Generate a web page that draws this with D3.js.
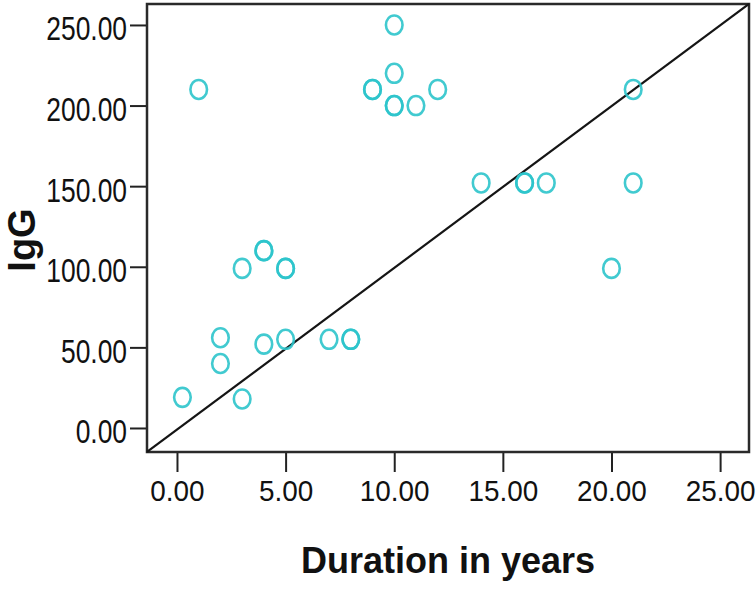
<!DOCTYPE html>
<html>
<head>
<meta charset="utf-8">
<script src="https://d3js.org/d3.v7.min.js"></script>
<style>
    body { margin: 0; background: #fff; }
    text { font-family: "Liberation Sans", Arial, sans-serif; fill: #111; }
</style>
</head>
<body>
<svg id="scatter" width="756" height="593"></svg>
<script>
// values (bold rings = two cases on top of each other)
const durations = [1, 10, 10, 9, 9, 10, 10, 11, 12,
    4, 4, 3, 5, 5, 2, 2, 4, 5, 7, 8, 8, 0.25, 3,
    14, 16, 16, 17, 21, 21, 20];
const iggValues = [210, 250, 220, 210, 210, 200, 200, 200, 210,
    110, 110, 99, 99, 99, 56, 40, 52, 55, 55, 55, 55, 19, 18,
    152, 152, 152, 152, 210, 152, 99];

const xTicks = [0, 5, 10, 15, 20, 25];
const yTicks = [0, 50, 100, 150, 200, 250];

// reference line
const fitIntercept = -1.0;
const fitSlope = 10.03;

const svg = d3.select("#scatter");
const frame = {left: 147, top: 4, right: 749, bottom: 452};

const x = d3.scaleLinear().domain([-1.38, 26.33]).range([frame.left, frame.right]);
const y = d3.scaleLinear().domain([-14.9, 263]).range([frame.bottom, frame.top]);
const fmt = d3.format(".2f");

// y axis
const yAxis = svg.append("g")
    .attr("transform", "translate(" + frame.left + ",0)")
    .call(d3.axisLeft(y).tickValues(yTicks).tickFormat(fmt).tickSize(17).tickPadding(3));
yAxis.select(".domain").remove();
yAxis.selectAll("line").attr("stroke", "#222").attr("stroke-width", 2);
yAxis.selectAll("text")
    .attr("font-size", "33px")
    .attr("x", -20 / 0.8)
    .attr("dy", "0.45em")
    .attr("transform", "scale(0.8,1)");

// x axis
const xAxis = svg.append("g")
    .attr("transform", "translate(0," + frame.bottom + ")")
    .call(d3.axisBottom(x).tickValues(xTicks).tickFormat(fmt).tickSize(20).tickPadding(8));
xAxis.select(".domain").remove();
xAxis.selectAll("line").attr("stroke", "#222").attr("stroke-width", 2);
xAxis.selectAll("text")
    .attr("font-size", "30px")
    .attr("dy", "0.71em")
    .attr("transform", "scale(0.93,1)");

// frame
svg.append("rect")
    .attr("x", frame.left)
    .attr("y", frame.top)
    .attr("width", frame.right - frame.left)
    .attr("height", frame.bottom - frame.top)
    .attr("fill", "none")
    .attr("stroke", "#2a2a2a")
    .attr("stroke-width", 2.5);

// fit line
const line = d3.line()
    .x(d => x(d))
    .y(d => y(fitIntercept + fitSlope * d));
svg.append("path")
    .datum(x.domain())
    .attr("d", line)
    .attr("fill", "none")
    .attr("stroke", "#151515")
    .attr("stroke-width", 2.2);

// points
svg.append("g").selectAll("ellipse")
    .data(durations)
    .enter().append("ellipse")
    .attr("cx", d => x(d))
    .attr("cy", (d, i) => y(iggValues[i]))
    .attr("rx", 8.3)
    .attr("ry", 9.5)
    .attr("fill", "none")
    .attr("stroke", "#2cc4cb")
    .attr("stroke-width", 2.6)
    .attr("stroke-opacity", 0.9);

// titles
svg.append("text")
    .attr("x", (frame.left + frame.right) / 2)
    .attr("y", 573)
    .attr("text-anchor", "middle")
    .attr("font-size", "36px")
    .attr("font-weight", "bold")
    .text("Duration in years");

svg.append("text")
    .attr("transform", "translate(35,240) rotate(-90)")
    .attr("text-anchor", "middle")
    .attr("font-size", "38px")
    .attr("font-weight", "bold")
    .text("IgG");
</script>
</body>
</html>
